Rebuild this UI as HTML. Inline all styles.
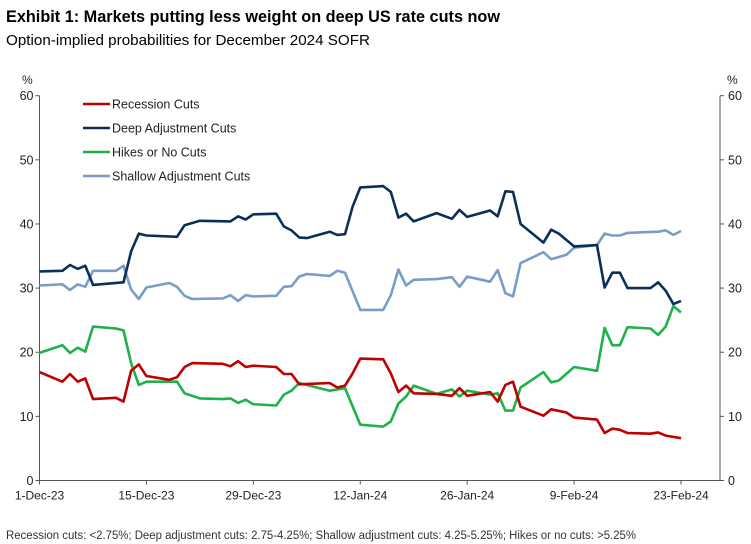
<!DOCTYPE html>
<html><head><meta charset="utf-8"><style>
body{margin:0;background:#fff;width:751px;height:544px;overflow:hidden}
svg{display:block;font-family:"Liberation Sans",Arial,sans-serif}
</style></head><body>
<svg id="chart" width="751" height="544" viewBox="0 0 751 544">
<text x="6" y="22" font-size="16.5" font-weight="bold" fill="#000" textLength="494" lengthAdjust="spacingAndGlyphs">Exhibit 1: Markets putting less weight on deep US rate cuts now</text>
<text x="6" y="45" font-size="14.5" fill="#000" textLength="364" lengthAdjust="spacingAndGlyphs">Option-implied probabilities for December 2024 SOFR</text>
<text x="6" y="539" font-size="11.5" fill="#333" textLength="630" lengthAdjust="spacingAndGlyphs">Recession cuts: &lt;2.75%; Deep adjustment cuts: 2.75-4.25%; Shallow adjustment cuts: 4.25-5.25%; Hikes or no cuts: &gt;5.25%</text>
<text x="22" y="84" font-size="12" fill="#222">%</text>
<text x="727" y="84" font-size="12" fill="#222">%</text>
<g id="axes"></g>
<g id="series"></g>
<g id="legend"></g>
</svg>
<script>
const yTicks=[0,10,20,30,40,50,60];
const xTickDays=[0,14,28,42,56,70,84];
const xTickLabels=["1-Dec-23","15-Dec-23","29-Dec-23","12-Jan-24","26-Jan-24","9-Feb-24","23-Feb-24"];
const seriesNames=["Recession Cuts","Deep Adjustment Cuts","Hikes or No Cuts","Shallow Adjustment Cuts"];
const seriesColors=["#c00000","#0c2f57","#1fb24a","#7a9cc8"];
const deepDays=[0,3,4,5,6,7,11,12,13,14,18,19,21,25,26,27,28,31,32,33,34,35,38,39,40,41,42,45,46,47,48,49,52,54,55,56,59,60,61,62,63,66,67,68,70,73,74,75,76,77,80,81,82,83,84];
const deepVals=[32.6,32.7,33.6,33,33.5,30.5,30.9,35.7,38.5,38.2,38,39.8,40.5,40.4,41.2,40.7,41.5,41.6,39.6,39,37.9,37.8,38.8,38.3,38.4,42.7,45.7,45.9,45,41,41.6,40.4,41.7,40.8,42.2,41.1,42.1,41.2,45.1,45,40,37.1,39.1,38.5,36.5,36.7,30.1,32.4,32.4,30,30,30.9,29.6,27.5,28];
const shallowDays=[0,3,4,5,6,7,10,11,12,13,14,17,18,19,20,24,25,26,27,28,31,32,33,34,35,38,39,40,42,45,46,47,48,49,52,54,55,56,59,60,61,62,63,66,67,69,70,73,74,75,76,77,81,82,83,84];
const shallowVals=[30.4,30.6,29.7,30.6,30.2,32.7,32.7,33.5,29.8,28.3,30.1,30.8,30.2,28.8,28.3,28.4,28.9,28,28.9,28.7,28.8,30.2,30.3,31.8,32.2,31.9,32.7,32.4,26.6,26.6,28.9,32.9,30.4,31.3,31.4,31.7,30.2,31.8,31,32.8,29.2,28.7,33.9,35.6,34.5,35.2,36.3,36.7,38.5,38.2,38.2,38.6,38.8,39,38.3,38.9];
const hikeDays=[0,3,4,5,6,7,10,11,12,13,14,18,19,21,24,25,26,27,28,31,32,33,34,38,40,42,45,46,47,48,49,52,54,55,56,59,60,61,62,63,66,67,68,70,73,74,75,76,77,80,81,82,83,84];
const hikeVals=[19.9,21.1,19.9,20.7,20.1,24,23.7,23.4,18.3,14.9,15.4,15.4,13.6,12.8,12.7,12.8,12.1,12.6,11.9,11.7,13.4,14,15.2,14,14.4,8.7,8.4,9.2,12,13.1,14.8,13.5,14.2,13.1,14,13.4,13.6,10.9,10.9,14.5,16.9,15.3,15.6,17.7,17.1,23.8,21.1,21.1,23.9,23.7,22.7,24,27.2,26.2];
const recDays=[0,3,4,5,6,7,10,11,12,13,14,17,18,19,20,24,25,26,27,28,31,32,33,34,38,39,40,41,42,45,46,47,48,49,52,54,55,56,59,60,61,62,63,66,67,69,70,73,74,75,76,77,80,81,82,83,84];
const recVals=[16.9,15.4,16.6,15.4,15.9,12.7,12.9,12.3,17.1,18.1,16.3,15.7,16.1,17.7,18.3,18.2,17.8,18.6,17.7,17.9,17.7,16.6,16.6,15,15.2,14.5,14.8,16.7,19,18.9,16.7,13.8,14.8,13.6,13.5,13.2,14.4,13.2,13.8,12.3,14.9,15.4,11.5,10.1,11.1,10.6,9.8,9.5,7.4,8.1,7.9,7.4,7.3,7.5,7,6.8,6.6];

const X0=39.5,X1=681,XR=720,Y0=480.5,Y1=95.7;
const xs=d=>X0+(X1-X0)*d/84;
const ys=v=>Y0+(Y1-Y0)*v/60;
const NS="http://www.w3.org/2000/svg";
function mk(tag,parent){const e=document.createElementNS(NS,tag);parent.appendChild(e);return e;}
const axes=document.getElementById('axes');
let l=mk('line',axes);


l.setAttribute('x1',X0);l.setAttribute('x2',X0);l.setAttribute('y1',Y1);l.setAttribute('y2',Y0);l.setAttribute('stroke','#555');
l=mk('line',axes);


l.setAttribute('x1',XR);l.setAttribute('x2',XR);l.setAttribute('y1',Y1);l.setAttribute('y2',Y0);l.setAttribute('stroke','#555');
l=mk('line',axes);


l.setAttribute('x1',X0);l.setAttribute('x2',XR);l.setAttribute('y1',Y0);l.setAttribute('y2',Y0);l.setAttribute('stroke','#555');
yTicks.forEach(v=>{
  const y=ys(v);
  let t=mk('line',axes);t.setAttribute('x1',X0-4);t.setAttribute('x2',X0);t.setAttribute('y1',y);t.setAttribute('y2',y);t.setAttribute('stroke','#555');
  t=mk('line',axes);t.setAttribute('x1',XR);t.setAttribute('x2',XR+4);t.setAttribute('y1',y);t.setAttribute('y2',y);t.setAttribute('stroke','#555');
  let tx=mk('text',axes);
  
  
  tx.setAttribute('x',X0-6);tx.setAttribute('y',y+4.5);tx.setAttribute('text-anchor','end');tx.setAttribute('font-size','12.5');tx.setAttribute('fill','#222');tx.textContent=v;
  tx=mk('text',axes);
  
  
  tx.setAttribute('x',XR+8);tx.setAttribute('y',y+4.5);tx.setAttribute('font-size','12.5');tx.setAttribute('fill','#222');tx.textContent=v;
});
xTickDays.forEach((d,i)=>{
  const x=xs(d);
  let t=mk('line',axes);t.setAttribute('x1',x);t.setAttribute('x2',x);t.setAttribute('y1',Y0);t.setAttribute('y2',Y0+4);t.setAttribute('stroke','#555');
  let tx=mk('text',axes);
  
  
  tx.setAttribute('x',i===0?Math.max(x,27):x);tx.setAttribute('y',Y0+19);tx.setAttribute('text-anchor','middle');tx.setAttribute('font-size','12');tx.setAttribute('fill','#222');tx.textContent=xTickLabels[i];
});
const sg=document.getElementById('series');
const allDays=[recDays,deepDays,hikeDays,shallowDays];
const allVals=[recVals,deepVals,hikeVals,shallowVals];
const order=[3,2,0,1];
const slugs=['recession-cuts-line','deep-adjustment-cuts-line','hikes-or-no-cuts-line','shallow-adjustment-cuts-line'];
order.forEach(i=>{
  const p=mk('path',sg);
  
  
  p.setAttribute('d',allDays[i].map((d,k)=>(k?'L':'M')+xs(d).toFixed(1)+' '+ys(allVals[i][k]).toFixed(1)).join(''));
  p.setAttribute('fill','none');p.setAttribute('stroke',seriesColors[i]);p.setAttribute('stroke-width','2.6');p.setAttribute('stroke-linejoin','round');
});
const lg=document.getElementById('legend');
seriesNames.forEach((n,i)=>{
  const y=104+i*24;
  const g=mk('g',lg);
  
  
  const ln=mk('line',g);ln.setAttribute('x1',83);ln.setAttribute('x2',110);ln.setAttribute('y1',y);ln.setAttribute('y2',y);ln.setAttribute('stroke',seriesColors[i]);ln.setAttribute('stroke-width','2.6');
  const tx=mk('text',g);tx.setAttribute('x',112);tx.setAttribute('y',y+4.5);tx.setAttribute('font-size','12.5');tx.setAttribute('fill','#222');tx.textContent=n;
});
</script>
</body></html>
